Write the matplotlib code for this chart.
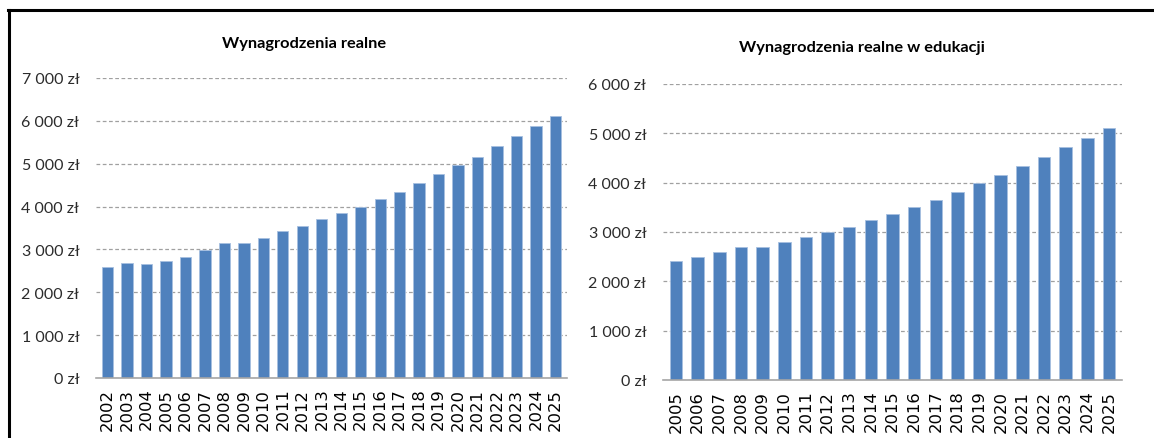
import matplotlib
matplotlib.use("Agg")
import matplotlib.pyplot as plt
from matplotlib.lines import Line2D

# real wages, all sectors
years_all = list(range(2002, 2026))
wages_all = [2600, 2690, 2665, 2735, 2830, 2990, 3160, 3160, 3275, 3425,
             3540, 3700, 3857, 3997, 4180, 4350, 4560, 4765, 4960, 5165,
             5418, 5645, 5875, 6110]

# real wages in education
years_edu = list(range(2005, 2026))
wages_edu = [2412, 2493, 2590, 2703, 2703, 2797, 2899, 2995, 3110, 3245,
             3360, 3515, 3650, 3805, 3988, 4157, 4333, 4522, 4732, 4907,
             5117]

BAR = "#4F81BD"
LABEL_FONT = ["Lato", "DejaVu Sans"]


def zl(v, pos=None):
    return f"{v:,.0f}".replace(",", " ") + " zł"


def draw(ax, years, values, ymax):
    ax.bar(range(len(years)), values, width=0.58, color=BAR,
           edgecolor="#a7c0e0", linewidth=0.6, zorder=3)
    ax.set_xlim(-0.6, len(years) - 0.4)
    ax.set_ylim(0, ymax)
    ax.set_yticks(range(0, ymax + 1, 1000))
    ax.yaxis.set_major_formatter(zl)
    ax.set_xticks(range(len(years)))
    ax.set_xticklabels([str(y) for y in years], rotation=90,
                       fontfamily="DejaVu Sans", fontsize=11.8)
    for lab in ax.get_yticklabels():
        lab.set_fontfamily(LABEL_FONT)
        lab.set_fontsize(11.5)
        lab.set_color("#2b2b2b")
    ax.tick_params(length=0, pad=12)
    ax.tick_params(axis="x", pad=7)
    ax.grid(axis="y", linestyle=(0, (3, 2)), color="#a0a0a0", linewidth=0.9, zorder=0)
    for s in ["top", "right", "left"]:
        ax.spines[s].set_visible(False)
    ax.spines["bottom"].set_color("#a6a6a6")
    ax.spines["bottom"].set_linewidth(1.2)
    ax.spines["bottom"].set_zorder(4)


fig = plt.figure(figsize=(11.54, 4.39), dpi=100)

ax1 = fig.add_axes([96 / 1154, 1 - 379 / 439, (567 - 96) / 1154, (379 - 79) / 439])
draw(ax1, years_all, wages_all, 7000)

ax2 = fig.add_axes([663 / 1154, 1 - 381 / 439, (1122 - 663) / 1154, (381 - 85) / 439])
draw(ax2, years_edu, wages_edu, 6000)

fig.text(304 / 1154, 1 - 44 / 439, "Wynagrodzenia realne", ha="center", va="center",
         fontfamily=LABEL_FONT, fontweight="bold", fontsize=11.8)
fig.text(862 / 1154, 1 - 48 / 439, "Wynagrodzenia realne w edukacji", ha="center",
         va="center", fontfamily=LABEL_FONT, fontweight="bold", fontsize=11.8)

# frame lines (top and left)
fig.add_artist(Line2D([8 / 1154, 1], [1 - 11 / 439, 1 - 11 / 439], color="black",
                      linewidth=2.2, transform=fig.transFigure))
fig.add_artist(Line2D([9 / 1154, 9 / 1154], [0, 1 - 11 / 439], color="black",
                      linewidth=2.2, transform=fig.transFigure))

fig.savefig("out.png", dpi=100)
